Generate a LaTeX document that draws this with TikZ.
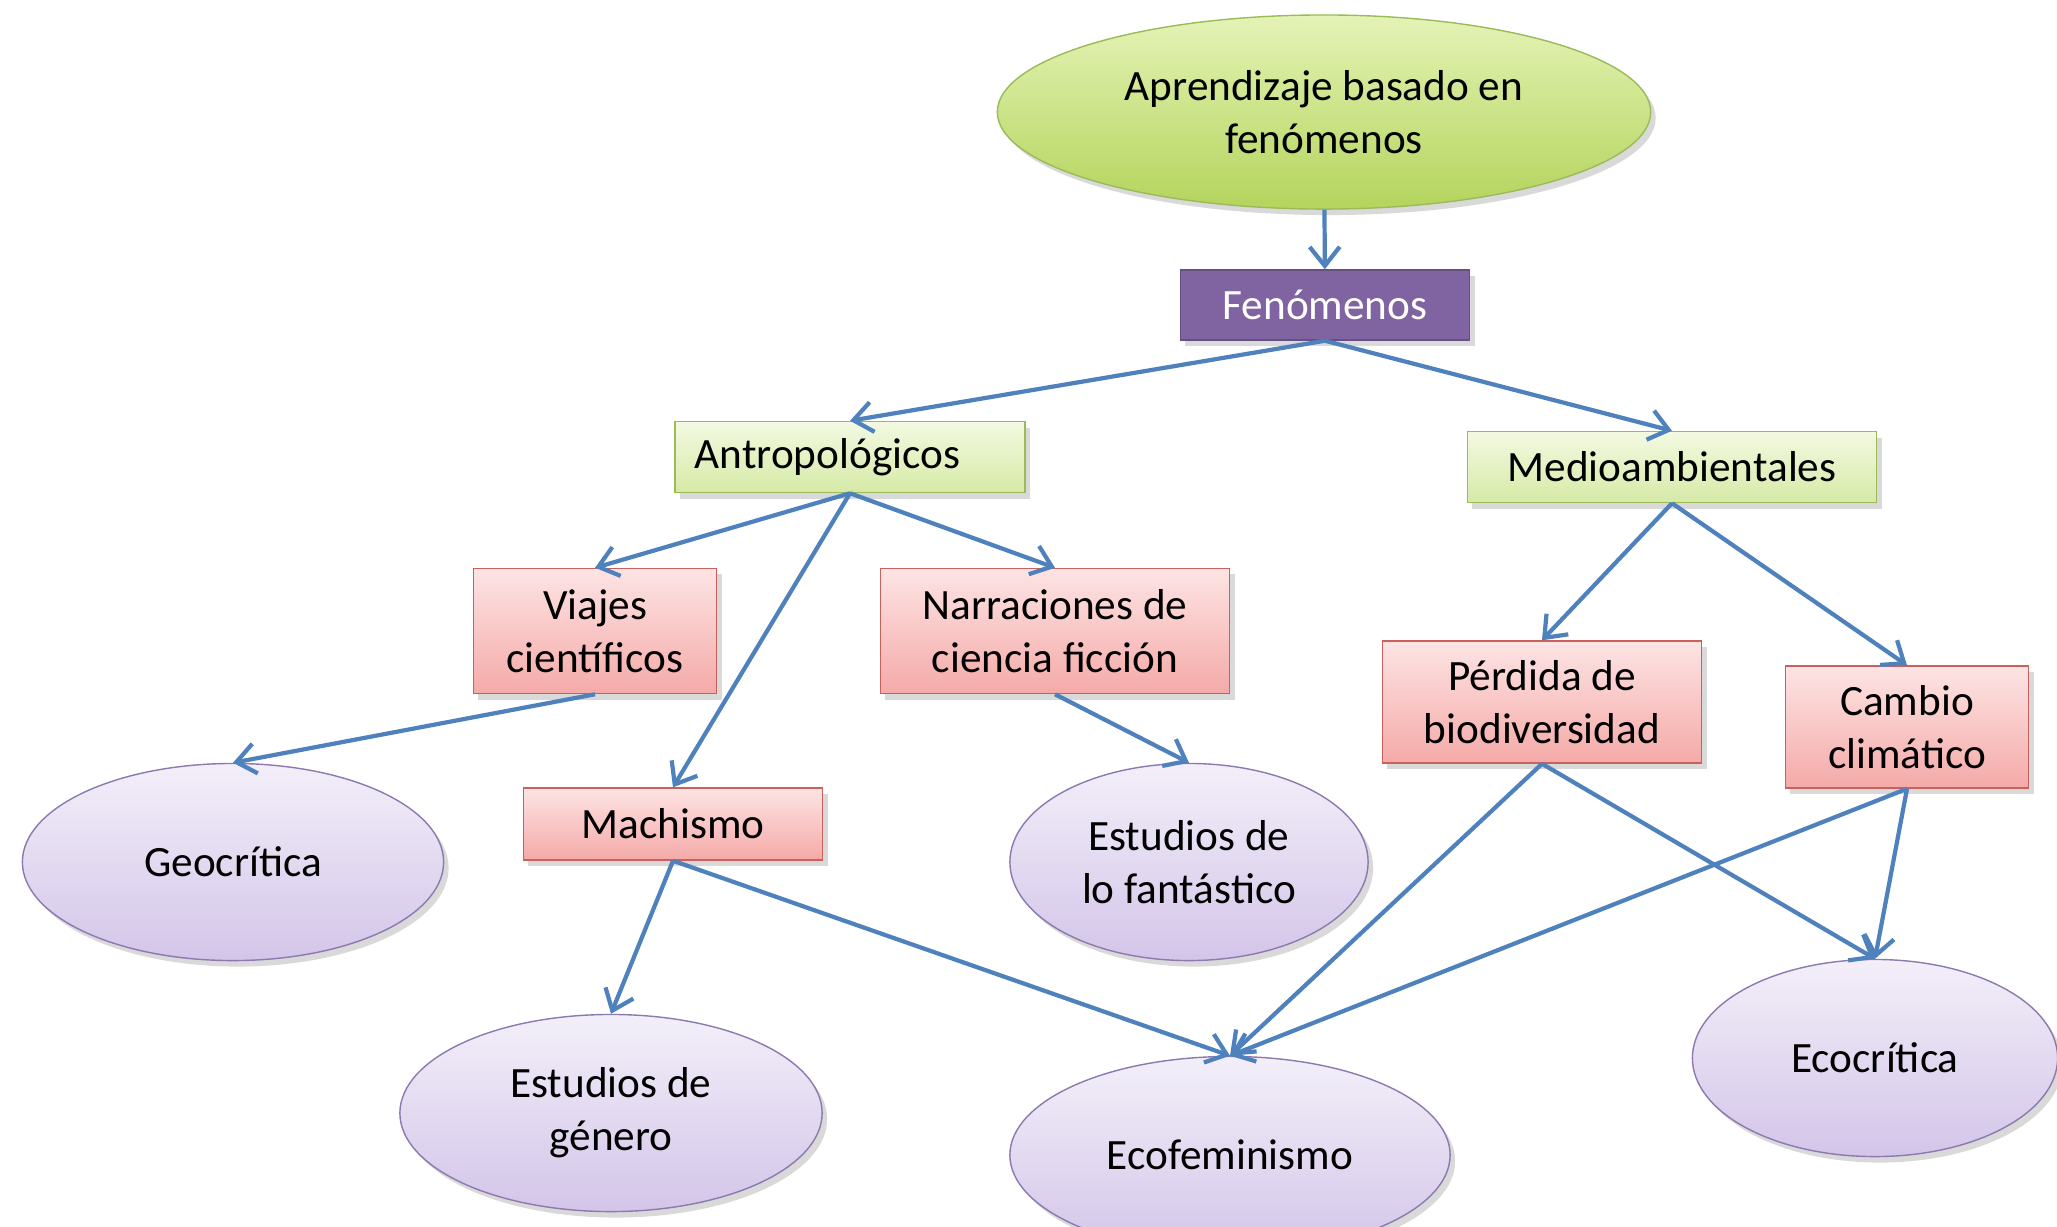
\documentclass[tikz,border=0pt]{standalone}
\usepackage{fontspec}
\setmainfont{Carlito}
\usetikzlibrary{shapes.geometric,shadows,arrows.meta}

\definecolor{linkblue}{HTML}{4F81BD}
\definecolor{greenline}{HTML}{9BBB59}
\definecolor{redline}{HTML}{C9605C}
\definecolor{lilacline}{HTML}{8C7AAE}
\definecolor{fenfill}{HTML}{8064A2}

\tikzset{
  every node/.style={font=\fontsize{12.3}{15}\selectfont, align=center, inner sep=0pt},
  shade/.style={drop shadow={shadow xshift=0.5mm, shadow yshift=-0.6mm, opacity=0.3}},
  root/.style={ellipse, shade, draw=greenline, top color={rgb,255:red,228;green,243;blue,182}, bottom color={rgb,255:red,180;green,212;blue,92}},
  fenbox/.style={rectangle, shade, draw=fenfill!80!black, fill=fenfill, text=white},
  greenbox/.style={rectangle, shade, draw=greenline, top color={rgb,255:red,243;green,249;blue,226}, bottom color={rgb,255:red,214;green,234;blue,166}},
  redbox/.style={rectangle, shade, draw=redline, top color={rgb,255:red,253;green,228;blue,228}, bottom color={rgb,255:red,244;green,170;blue,168}},
  leaf/.style={ellipse, shade, draw=lilacline, top color={rgb,255:red,243;green,239;blue,249}, bottom color={rgb,255:red,211;green,197;blue,233}},
  link/.style={draw=linkblue, line width=1.2pt, -{Straight Barb[length=1.9mm,width=3mm]}}
}

\begin{document}
\begin{tikzpicture}[x=0.01cm,y=-0.01cm]
    \clip (0,0) rectangle (2057,1226);

    \node[root, minimum width=6.53cm, minimum height=1.94cm] (abp) at (1324,112) {Aprendizaje basado en\\fenómenos};
    \node[fenbox, minimum width=2.89cm, minimum height=0.70cm] (fen) at (1325,305) {Fenómenos};

    \node[greenbox, minimum width=3.50cm, minimum height=0.71cm] (antro) at (850,457) {\hspace*{-0.45cm}Antropológicos};
    \node[greenbox, minimum width=4.09cm, minimum height=0.71cm] (medio) at (1672,467) {Medioambientales};

    \node[redbox, minimum width=2.43cm, minimum height=1.25cm] (viajes) at (595,631) {Viajes\\científicos};
    \node[redbox, minimum width=3.49cm, minimum height=1.25cm] (narr) at (1055,631) {Narraciones de\\ciencia ficción};
    \node[redbox, minimum width=2.99cm, minimum height=0.72cm] (machismo) at (673,824) {Machismo};
    \node[redbox, minimum width=3.19cm, minimum height=1.22cm] (perdida) at (1542,702) {Pérdida de\\biodiversidad};
    \node[redbox, minimum width=2.43cm, minimum height=1.22cm] (cambio) at (1907,727) {Cambio\\climático};

    \node[leaf, minimum width=4.21cm, minimum height=1.97cm] (geo) at (233,862) {Geocrítica};
    \node[leaf, minimum width=3.58cm, minimum height=1.97cm] (fant) at (1189,862) {Estudios de\\lo fantástico};
    \node[leaf, minimum width=4.22cm, minimum height=1.97cm] (genero) at (611,1113) {Estudios de\\género};
    \node[leaf, minimum width=4.40cm, minimum height=1.97cm] (ecofem) at (1230,1155) {Ecofeminismo};
    \node[leaf, minimum width=3.65cm, minimum height=1.97cm] (ecocrit) at (1875,1058) {Ecocrítica};

    \draw[link] (abp) -- (fen);
    \draw[link] (fen.south) -- (antro.north);
    \draw[link] (fen.south) -- (medio.north);
    \draw[link] (antro.south) -- (viajes.north);
    \draw[link] (antro.south) -- (narr.north);
    \draw[link] (antro.south) -- (machismo.north);
    \draw[link] (medio.south) -- (perdida.north);
    \draw[link] (medio.south) -- (cambio.north);
    \draw[link] (viajes.south) -- (geo.north);
    \draw[link] (narr.south) -- (fant.north);
    \draw[link] (machismo.south) -- (genero.north);
    \draw[link] (machismo.south) -- (ecofem.north);
    \draw[link] (perdida.south) -- (ecofem.north);
    \draw[link] (perdida.south) -- (ecocrit.north);
    \draw[link] (cambio.south) -- (ecofem.north);
    \draw[link] (cambio.south) -- (ecocrit.north);
  \end{tikzpicture}
\end{document}
